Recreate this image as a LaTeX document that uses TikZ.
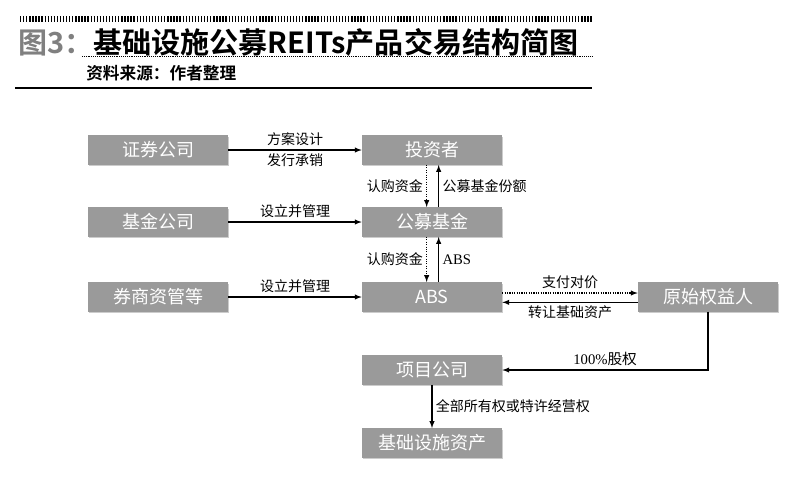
\documentclass[tikz,border=0pt]{standalone}
\usepackage{fontspec}
\setmainfont{Liberation Serif}
\newfontfamily\cjk{Noto Sans CJK SC}
\newfontfamily\cjkb{Noto Sans CJK SC Bold}
\usepackage{tikz}
\usetikzlibrary{positioning,shadows}

\definecolor{boxgray}{HTML}{9A9A9A}
\tikzset{
  box/.style={fill=boxgray, text=white, minimum width=105pt, minimum height=22pt,
    font=\cjk\fontsize{13.5}{13.5}\selectfont, drop shadow={opacity=0.4, shadow xshift=1pt, shadow yshift=-1pt}},
  lbl/.style={font=\cjk\fontsize{10.5}{11}\selectfont, inner sep=2.5pt},
  arr/.style={-latex, thick},
  darr/.style={-latex, thick, densely dotted}
}

\begin{document}
\begin{tikzpicture}[x=0.75pt,y=-0.75pt]
  \useasboundingbox (0,0) rectangle (800,480);

  % Header
  \draw[line width=5pt, dash pattern=on 1pt off 1.3pt] (20,19) -- (592,19);
  \node[anchor=west, font=\cjkb\fontsize{21.8}{21.8}\selectfont, inner sep=0] (title) at (18,42)
    {\textcolor{gray}{图3：}基础设施公募REITs产品交易结构简图};
  \draw[densely dotted, thin] (82,56) -- (592,56);
  \node[anchor=west, font=\cjkb\fontsize{12.5}{12.5}\selectfont, inner sep=0] (src) at (86,73) {资料来源：作者整理};
  \draw[line width=2pt] (15,88) -- (592,88);

  % Left column
  \node[box] (sec) at (158,150) {证券公司};
  \node[box] (fco) at (158,222) {基金公司};
  \node[box] (brk) at (158,297) {券商资管等};

  % Middle column
  \node[box] (inv) at (432,150) {投资者};
  \node[box] (fund) at (432,222) {公募基金};
  \node[box] (abs) at (432,297) {ABS};
  \node[box] (proj) at (432,370) {项目公司};
  \node[box] (asset) at (432,443) {基础设施资产};

  % Right
  \node[box] (orig) at (708,297) {原始权益人};

  % Left to middle
  \draw[arr] (sec) -- node[lbl, above] {方案设计} node[lbl, below] {发行承销} (inv);
  \draw[arr] (fco) -- node[lbl, above] {设立并管理} (fund);
  \draw[arr] (brk) -- node[lbl, above] {设立并管理} (abs);

  % Vertical flows
  \draw[darr] ([xshift=-4pt]inv.south) -- node[lbl, left] {认购资金} ([xshift=-4pt]fund.north);
  \draw[arr] ([xshift=5pt]fund.north) -- node[lbl, right] {公募基金份额} ([xshift=5pt]inv.south);
  \draw[darr] ([xshift=-4pt]fund.south) -- node[lbl, left] {认购资金} ([xshift=-4pt]abs.north);
  \draw[arr] ([xshift=5pt]abs.north) -- node[lbl, right, font=\fontsize{11}{11}\selectfont] {ABS} ([xshift=5pt]fund.south);

  % ABS and originator
  \draw[darr] ([yshift=3pt]abs.east) -- node[lbl, above] {支付对价} ([yshift=3pt]orig.west);
  \draw[arr] ([yshift=-4pt]orig.west) -- node[lbl, below] {转让基础资产} ([yshift=-4pt]abs.west -| abs.east);
  \draw[arr] (orig.south) |- node[lbl, above, pos=0.75] {\fontsize{11}{11}\selectfont\rmfamily 100\%\cjk 股权} (proj.east);

  % Project to asset
  \draw[arr] (proj) -- node[lbl, right] {全部所有权或特许经营权} (asset);
\end{tikzpicture}
\end{document}
